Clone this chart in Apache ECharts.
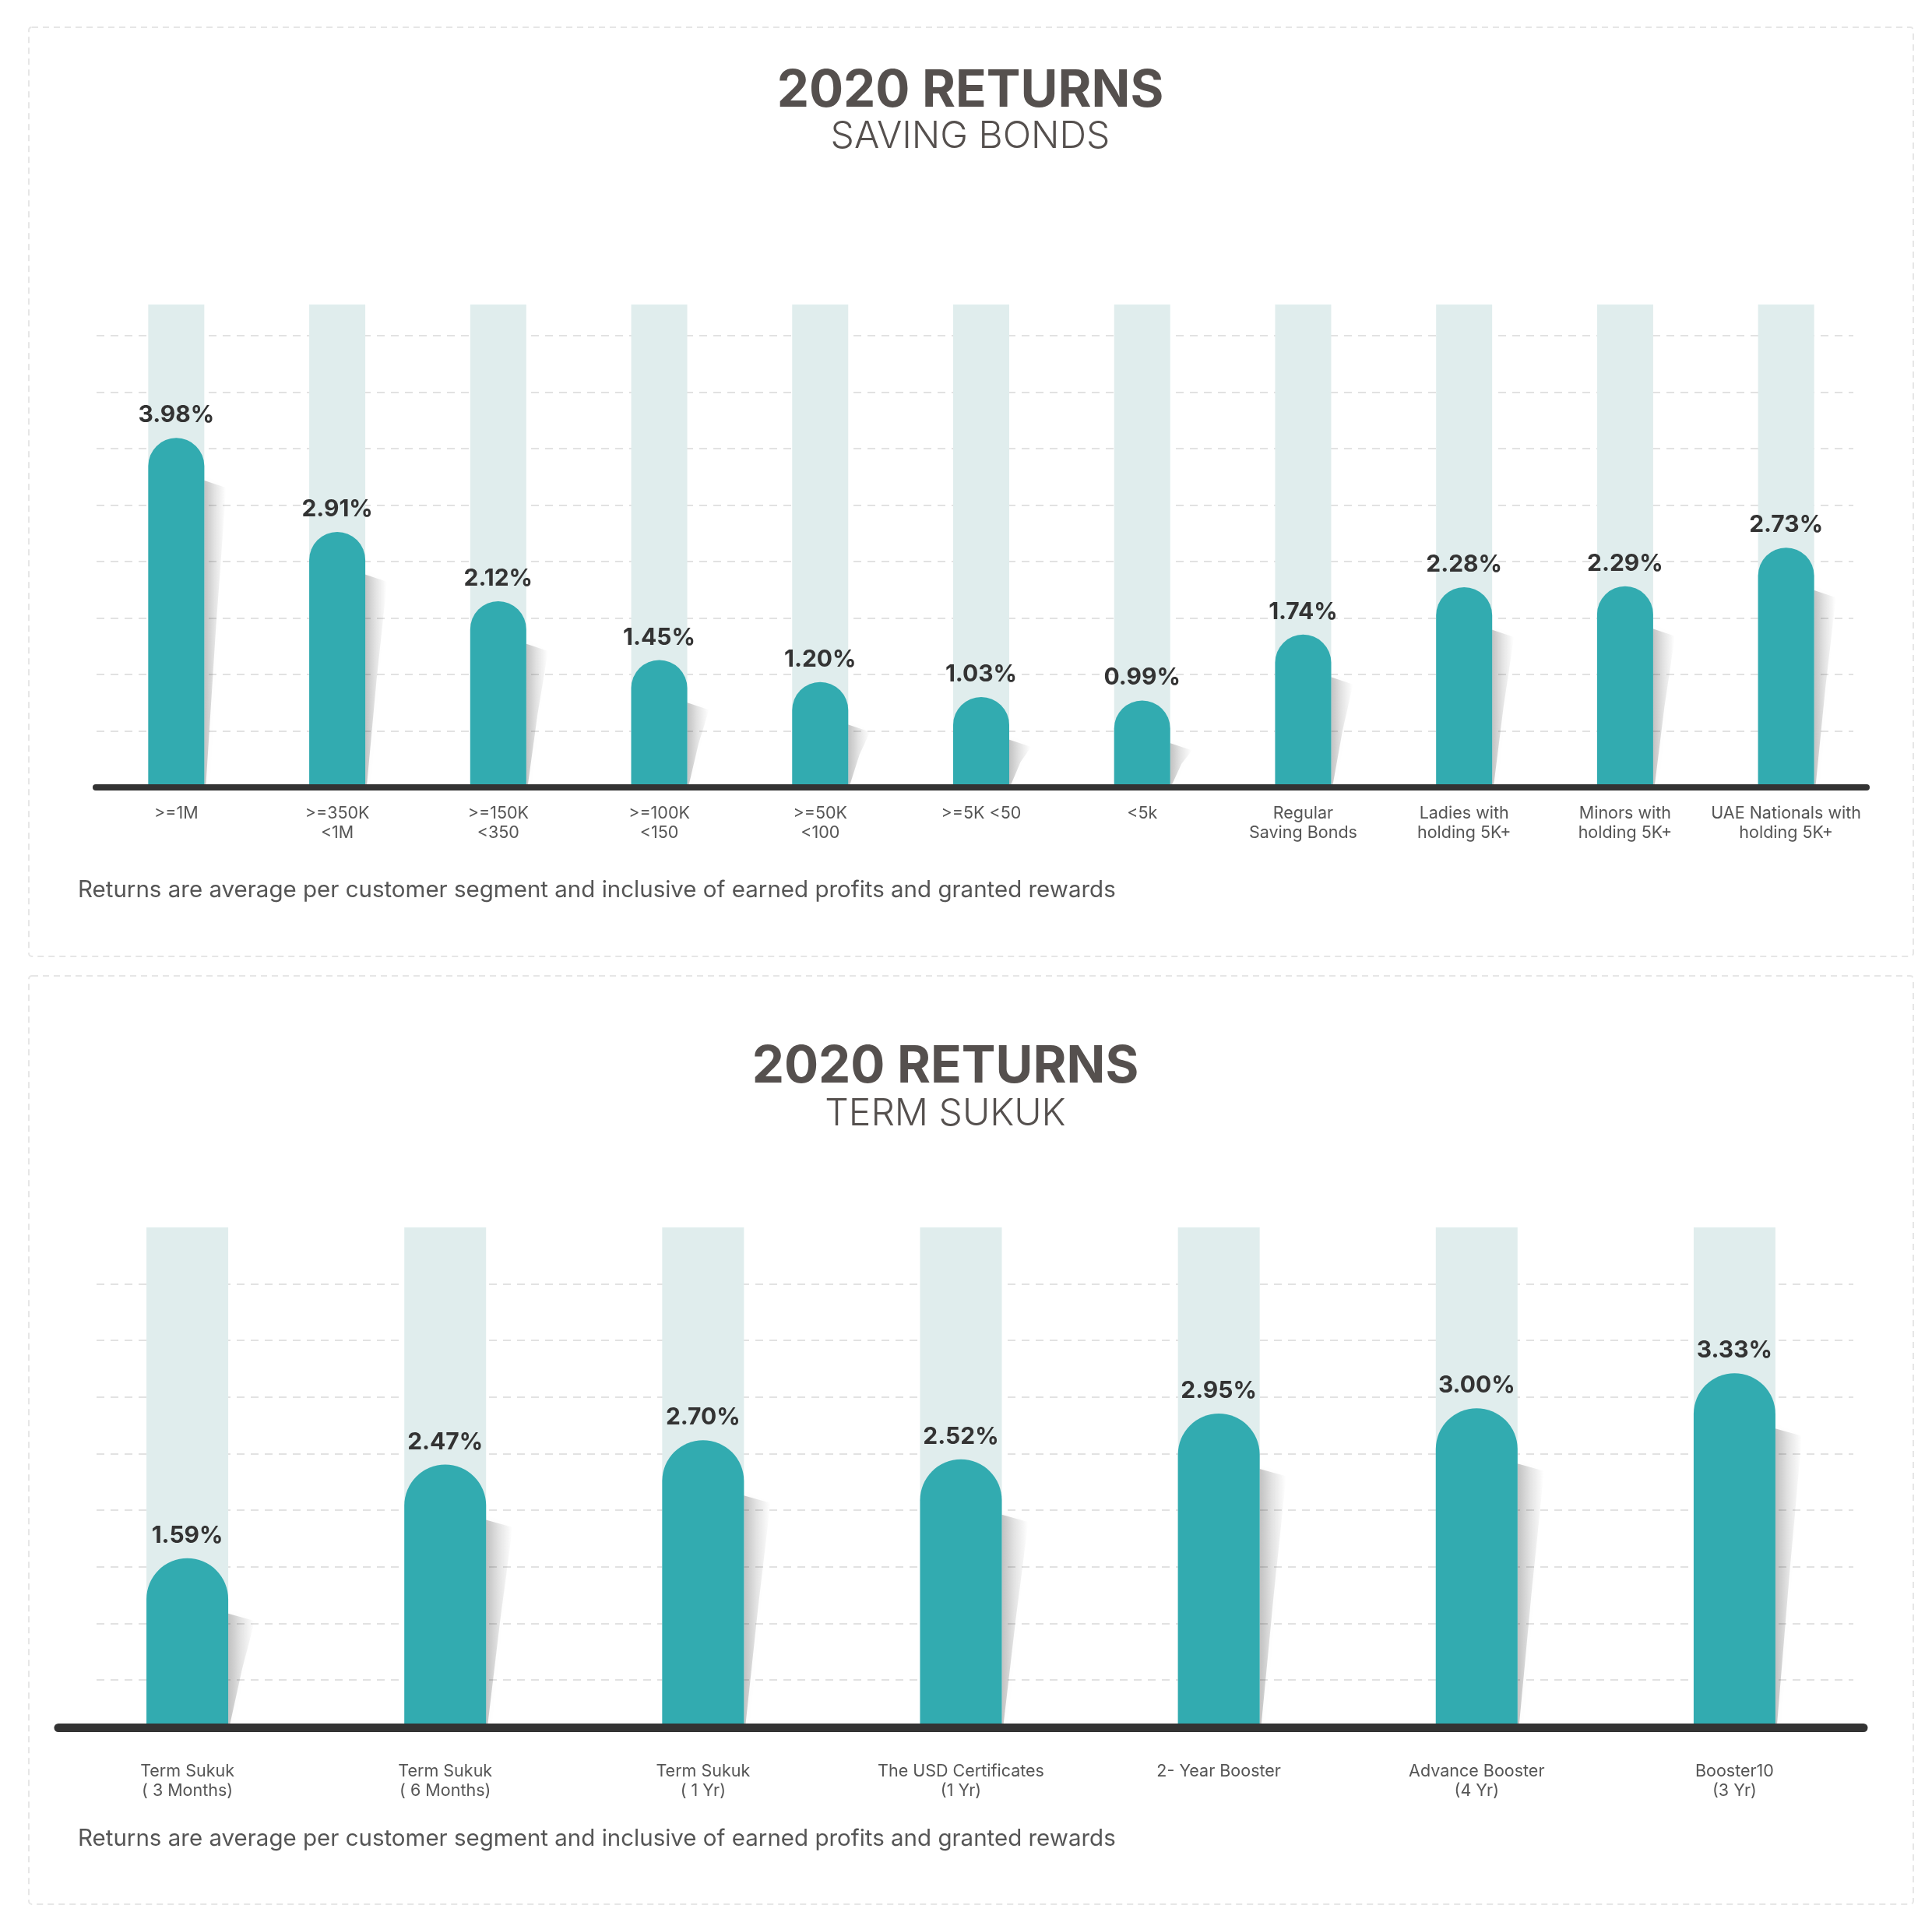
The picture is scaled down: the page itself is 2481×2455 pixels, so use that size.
<!DOCTYPE html>
<html>
<head>
<meta charset="utf-8">
<script src="https://cdn.jsdelivr.net/npm/echarts@6/dist/echarts.min.js"></script>
<style>
html,body{margin:0;padding:0;background:#fff;}
#c{width:2481px;height:2455px;}
</style>
</head>
<body>
<div id="c"></div>
<script>
// ---- Data ----
var bondCategories = [">=1M", ">=350K\n<1M", ">=150K\n<350", ">=100K\n<150", ">=50K\n<100", ">=5K <50", "<5k", "Regular\nSaving Bonds", "Ladies with\nholding 5K+", "Minors with\nholding 5K+", "UAE Nationals with\nholding 5K+"];
var bondReturns = [3.98, 2.91, 2.12, 1.45, 1.20, 1.03, 0.99, 1.74, 2.28, 2.29, 2.73];

var sukukCategories = ["Term Sukuk\n( 3 Months)", "Term Sukuk\n( 6 Months)", "Term Sukuk\n( 1 Yr)", "The USD Certificates\n(1 Yr)", "2- Year Booster", "Advance Booster\n(4 Yr)", "Booster10\n(3 Yr)"];
var sukukReturns = [1.59, 2.47, 2.70, 2.52, 2.95, 3.00, 3.33];

var panelTitle = "2020 RETURNS";
var bondSubtitle = "SAVING BONDS";
var sukukSubtitle = "TERM SUKUK";
var footNote = "Returns are average per customer segment and inclusive of earned profits and granted rewards";

// ---- Styles ----
var FONT = "Inter, 'Noto Sans', sans-serif";
var TEAL = "#32abb0";
var BG = "#e0eded";
var TITLE_C = "#55504e";
var GRID_LINE = {show: true, showMinLine: false, showMaxLine: false, lineStyle: {color: "#e2e2e2", width: 2, type: [10, 8]}};

var chart = echarts.init(document.getElementById('c'), null, {renderer: 'canvas'});

function barSeries(data, xi, yi, width) {
  return {
    type: 'bar',
    xAxisIndex: xi,
    yAxisIndex: yi,
    data: data,
    barWidth: width,
    showBackground: true,
    backgroundStyle: {color: BG},
    itemStyle: {
      color: TEAL,
      borderRadius: [width / 2, width / 2, 0, 0]
    },
    label: {
      show: true,
      position: 'top',
      distance: 14,
      formatter: function (p) { return p.value.toFixed(2) + '%'; },
      fontFamily: FONT,
      fontWeight: 'bold',
      fontSize: 30,
      color: '#333'
    },
    silent: true,
    z: 3
  };
}

function shadowSeries(data, xi, yi, width, spread) {
  return {
    type: 'custom',
    xAxisIndex: xi,
    yAxisIndex: yi,
    silent: true,
    z: 2,
    data: data.map(function (v, i) { return [i, v]; }),
    renderItem: function (params, api) {
      var top = api.coord([api.value(0), api.value(1)]);
      var base = api.coord([api.value(0), 0]);
      var xr = top[0] + width / 2 - 2;
      var yB = base[1] - 3;
      var yT = Math.min(top[1] + width / 2 + 18, yB);
      return {
        type: 'polygon',
        shape: {points: [[xr, yT], [xr + spread, yT + 10], [xr + spread * 0.55, (yT + yB) / 2], [xr + 4, yB], [xr, yB]]},
        style: {
          fill: new echarts.graphic.LinearGradient(0, 0, 1, 0, [
            {offset: 0, color: 'rgba(0,0,0,0.24)'},
            {offset: 0.5, color: 'rgba(0,0,0,0.10)'},
            {offset: 1, color: 'rgba(0,0,0,0)'}
          ]),
          shadowBlur: 8,
          shadowColor: 'rgba(0,0,0,0.12)'
        }
      };
    }
  };
}

var option = {
  backgroundColor: '#fff',
  animation: false,
  grid: [
    {left: 123, right: 84, top: 391, bottom: 1444},
    {left: 75, right: 88, top: 1576, bottom: 237},
    {left: 124, right: 101, top: 391, bottom: 1444},
    {left: 124, right: 101, top: 1576, bottom: 237}
  ],
  xAxis: [
    {
      type: 'category', gridIndex: 0, data: bondCategories, z: 5,
      axisLine: {show: true, lineStyle: {color: '#333', width: 8}},
      axisTick: {show: false},
      axisLabel: {interval: 0, margin: 21, fontFamily: FONT, fontSize: 21.5, lineHeight: 25, color: '#555'},
      splitLine: {show: false}
    },
    {
      type: 'category', gridIndex: 1, data: sukukCategories, z: 5,
      axisLine: {show: true, lineStyle: {color: '#333', width: 11}},
      axisTick: {show: false},
      axisLabel: {interval: 0, margin: 44, fontFamily: FONT, fontSize: 21.5, lineHeight: 25, color: '#555'},
      splitLine: {show: false}
    },
    {type: 'value', gridIndex: 2, min: 0, max: 1, show: false},
    {type: 'value', gridIndex: 3, min: 0, max: 1, show: false}
  ],
  yAxis: [
    {type: 'value', gridIndex: 0, min: 0, max: 5.5, show: false, splitLine: {show: false}},
    {type: 'value', gridIndex: 1, min: 0, max: 4.7, show: false, splitLine: {show: false}},
    {type: 'value', gridIndex: 2, min: 0, max: 8.55, interval: 1, axisLine: {show: false}, axisTick: {show: false}, axisLabel: {show: false}, splitLine: GRID_LINE},
    {type: 'value', gridIndex: 3, min: 0, max: 8.84, interval: 1, inverse: true, axisLine: {show: false}, axisTick: {show: false}, axisLabel: {show: false}, splitLine: GRID_LINE}
  ],
  series: [
    shadowSeries(bondReturns, 0, 0, 72, 30),
    barSeries(bondReturns, 0, 0, 72),
    shadowSeries(sukukReturns, 1, 1, 105, 36),
    barSeries(sukukReturns, 1, 1, 105)
  ],
  graphic: [
    {type: 'rect', shape: {x: 37, y: 35, width: 2420, height: 1193, r: 4}, style: {fill: 'none', stroke: '#e6e6e6', lineWidth: 2, lineDash: [8, 6]}, z: -10, silent: true},
    {type: 'rect', shape: {x: 37, y: 1253, width: 2420, height: 1192, r: 4}, style: {fill: 'none', stroke: '#e6e6e6', lineWidth: 2, lineDash: [8, 6]}, z: -10, silent: true},
    {type: 'text', x: 1246, y: 117, style: {text: panelTitle, fontFamily: FONT, fontWeight: 'bold', fontSize: 65.5, fill: TITLE_C, align: 'center', verticalAlign: 'middle'}, silent: true},
    {type: 'text', x: 1246, y: 176, style: {text: bondSubtitle, fontFamily: FONT, fontWeight: 300, fontSize: 48, fill: TITLE_C, align: 'center', verticalAlign: 'middle'}, silent: true},
    {type: 'text', x: 1214, y: 1370, style: {text: panelTitle, fontFamily: FONT, fontWeight: 'bold', fontSize: 65.5, fill: TITLE_C, align: 'center', verticalAlign: 'middle'}, silent: true},
    {type: 'text', x: 1214, y: 1431, style: {text: sukukSubtitle, fontFamily: FONT, fontWeight: 300, fontSize: 48, fill: TITLE_C, align: 'center', verticalAlign: 'middle'}, silent: true},
    {type: 'text', x: 100, y: 1143, style: {text: footNote, fontFamily: FONT, fontSize: 29.5, fill: '#555', align: 'left', verticalAlign: 'middle'}, silent: true},
    {type: 'text', x: 100, y: 2361, style: {text: footNote, fontFamily: FONT, fontSize: 29.5, fill: '#555', align: 'left', verticalAlign: 'middle'}, silent: true}
  ]
};
chart.setOption(option);
</script>
</body>
</html>
